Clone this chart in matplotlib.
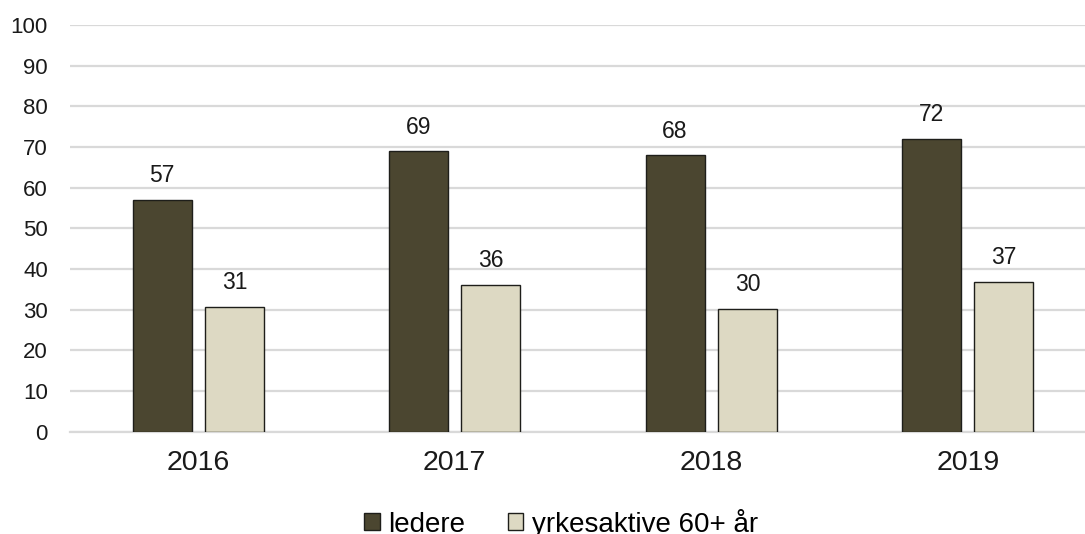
import matplotlib
matplotlib.use("Agg")
import matplotlib.pyplot as plt
import numpy as np

years = ["2016", "2017", "2018", "2019"]
ledere = [57, 69, 68, 72]
yrkesaktive = [30.7, 36.1, 30.2, 36.8]
series_names = ["ledere", "yrkesaktive 60+ år"]
yticks = [0, 10, 20, 30, 40, 50, 60, 70, 80, 90, 100]

plt.rcParams['font.family'] = ['Liberation Sans', 'DejaVu Sans']

W, H = 1085, 534
fig = plt.figure(figsize=(W / 100, H / 100), dpi=100)
left, right = 70, 1096
bottom, top = 431.5, 25
ax = fig.add_axes([left / W, (H - bottom) / H, (right - left) / W, (bottom - top) / H])

x = np.arange(len(years))
bw = 0.23
off = 0.141
dark = "#4B4630"
light = "#DDD9C3"
edge = "#1E1E1A"

b1 = ax.bar(x - off, ledere, bw, color=dark, edgecolor=edge, linewidth=1.0, label=series_names[0], zorder=3)
b2 = ax.bar(x + off, yrkesaktive, bw, color=light, edgecolor=edge, linewidth=1.0, label=series_names[1], zorder=3)

for bars, vals in ((b1, ledere), (b2, yrkesaktive)):
    for rect, v in zip(bars, vals):
        ax.annotate(f"{v:.0f}", (rect.get_x() + rect.get_width() / 2, v),
                    xytext=(0, 9), textcoords="offset points",
                    ha="center", va="bottom", fontsize=16.5, color="#1a1a1a")

ax.set_xlim(-0.5, 3.5)
ax.set_ylim(0, 100)
ax.set_yticks(yticks)
ax.set_xticks(x)
ax.set_xticklabels(years, fontsize=20.5, color="#1a1a1a")
ax.tick_params(axis="y", labelsize=16, colors="#1a1a1a", length=0, pad=16)
ax.tick_params(axis="x", length=0, pad=13)
ax.yaxis.grid(True, color="#D9D9D9", linewidth=1.6, zorder=0)
ax.set_axisbelow(True)
for s in ("top", "right", "left"):
    ax.spines[s].set_visible(False)
ax.spines["bottom"].set_color("#D9D9D9")
ax.spines["bottom"].set_linewidth(1.6)

fig.legend(handles=[b1, b2], labels=series_names, loc="center",
           bbox_to_anchor=(561 / W, (H - 523) / H), ncol=2, frameon=False,
           fontsize=20, handlelength=0.55, handleheight=0.55, handletextpad=0.3,
           columnspacing=1.55, borderaxespad=0)

fig.savefig("out.png", dpi=100)
